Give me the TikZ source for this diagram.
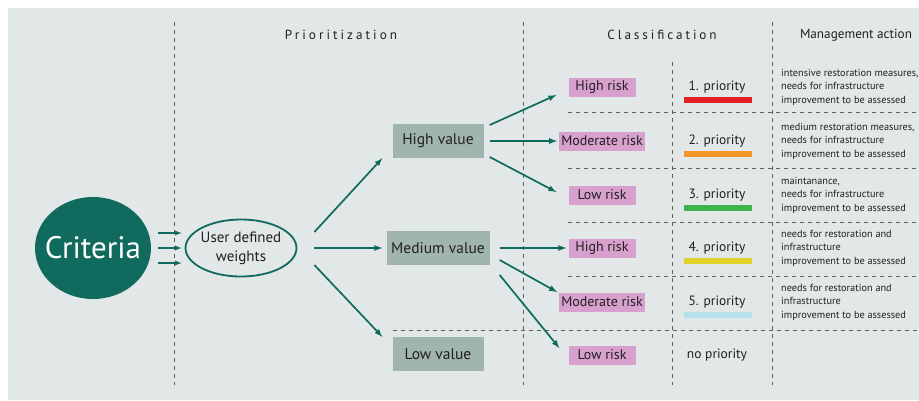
\documentclass[tikz,border=0pt]{standalone}
\usepackage{fontspec}
\setmainfont{PT Sans}
\usetikzlibrary{shapes.geometric}
\definecolor{bgcol}{RGB}{226,232,231}
\definecolor{critgreen}{RGB}{16,107,94}
\definecolor{valgrey}{RGB}{160,180,176}
\definecolor{riskpink}{RGB}{216,160,205}
\definecolor{inkcol}{RGB}{35,31,32}
\definecolor{barred}{RGB}{230,30,40}
\definecolor{barorange}{RGB}{245,150,40}
\definecolor{bargreen}{RGB}{60,180,75}
\definecolor{baryellow}{RGB}{225,210,40}
\definecolor{barblue}{RGB}{180,225,235}

\begin{document}
\begin{tikzpicture}[x=1pt,y=-1pt,text=inkcol,
sep/.style={gray!75!black,dash pattern=on 4pt off 4pt,line width=0.8pt},
arr/.style={-latex,draw=critgreen,line width=1.7pt},
valbox/.style={fill=valgrey,minimum height=34pt,minimum width=91pt,inner sep=3pt,font=\fontsize{15.5}{18}\selectfont},
riskbox/.style={fill=riskpink,minimum height=19pt,minimum width=67pt,inner sep=2pt,font=\fontsize{14}{16}\selectfont},
prio/.style={font=\fontsize{13.5}{16}\selectfont},
prbar/.style={minimum width=68pt,minimum height=6pt,inner sep=0pt},
action/.style={anchor=west,align=left,inner sep=0pt,font=\fontsize{10.3}{13.5}\selectfont},
head/.style={font=\fontsize{13.2}{15}\selectfont}]
\useasboundingbox (0,0) rectangle (919,400);
\fill[bgcol] (8,8) rectangle (919,400);
\foreach \x in {174,523,772}
 \draw[sep] (\x,22) -- (\x,385);
\draw[sep] (672,62) -- (672,385);
\foreach \y in {112,168,222,276}
 \draw[sep] (568,\y) -- (919,\y);
\draw[sep] (393,330) -- (919,330);
\node[head] (hprio) at (341,35) {\addfontfeatures{LetterSpace=23}Prioritization};
\node[head] (hclass) at (662,35) {\addfontfeatures{LetterSpace=22}Classification};
\node[head] (hact) at (856,35) {Management action};
\node[ellipse,fill=critgreen,minimum width=116pt,minimum height=102pt,inner xsep=-12pt,inner ysep=0pt,
 text=white,font=\fontsize{31}{36}\selectfont] (crit) at (93,248) {Criteria};
\node[ellipse,draw=critgreen,line width=1.8pt,minimum width=111pt,minimum height=57pt,
 inner xsep=-4pt,inner ysep=0pt,align=center,font=\fontsize{15}{19}\selectfont] (wts) at (241,248) {User defined\\weights};
\node[valbox] (hv) at (438,141) {High value};
\node[valbox,minimum width=103pt] (mv) at (438,248) {Medium value};
\node[valbox] (lv) at (438,354) {Low value};
\foreach \d in {-15,0,15}
 \draw[arr,line width=1.3pt] ([shift={(7,\d)}]crit.east) -- ([shift={(-3,\d)}]wts.west);
\draw[arr] ([shift={(17,-16)}]wts.east) -- ([shift={(-10,0)}]hv.south west);
\draw[arr] ([shift={(17,0)}]wts.east) -- ([shift={(-4,0)}]mv.west);
\draw[arr] ([shift={(17,17)}]wts.east) -- ([shift={(-10,0)}]lv.north west);
\foreach \i/\y/\rk/\pr in {1/87/High risk/1. priority,2/141/Moderate risk/2. priority,
 3/195/Low risk/3. priority,4/248/High risk/4. priority,
 5/302/Moderate risk/5. priority,6/355/Low risk/no priority}
{\node[riskbox] (r\i) at (602,\y) {\rk};
 \node[prio] (p\i) at (717,\y) {\pr};}
\foreach \i/\c in {1/barred,2/barorange,3/bargreen,4/baryellow,5/barblue}
 \node[prbar,fill=\c] (b\i) at ([shift={(1,13)}]p\i.center) {};
\foreach \i/\y/\act in {1/87/{intensive restoration measures,\\needs for infrastructure\\improvement to be assessed},
 2/141/{medium restoration measures,\\needs for infrastructure\\improvement to be assessed},
 3/195/{maintanance,\\needs for infrastructure\\improvement to be assessed},
 4/248/{needs for restoration and\\infrastructure\\improvement to be assessed},
 5/302/{needs for restoration and\\infrastructure\\improvement to be assessed}}
 \node[action] (a\i) at (781,\y) {\act};
\draw[arr] ([shift={(6,-16)}]hv.east) -- ([shift={(-12,8)}]r1.west);
\draw[arr] ([shift={(6,0)}]hv.east) -- ([shift={(-2,0)}]r2.west);
\draw[arr] ([shift={(6,16)}]hv.east) -- ([shift={(-12,-3)}]r3.west);
\draw[arr] ([shift={(10,0)}]mv.east) -- ([shift={(-2,0)}]r4.west);
\draw[arr] ([shift={(10,12)}]mv.east) -- ([shift={(-2,-10)}]r5.west);
\draw[arr] ([shift={(10,27)}]mv.east) -- ([shift={(-9,-7)}]r6.west);
\end{tikzpicture}
\end{document}
